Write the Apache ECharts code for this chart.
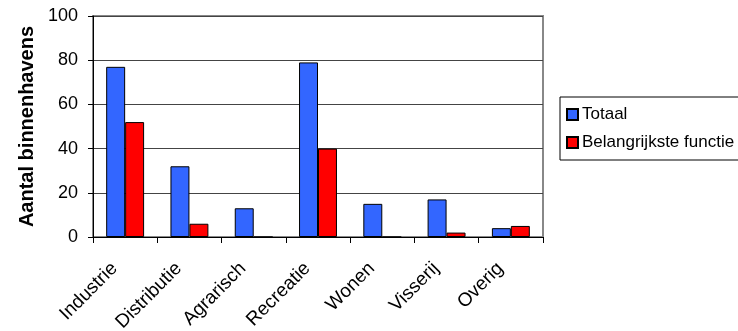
<!DOCTYPE html>
<html>
<head>
<meta charset="utf-8">
<script src="https://cdn.jsdelivr.net/npm/echarts@6/dist/echarts.min.js"></script>
<style>
html,body{margin:0;padding:0;background:#fff;}
#chart{width:738px;height:331px;}
</style>
</head>
<body>
<div id="chart"></div>
<script>
var categories = ['Industrie', 'Distributie', 'Agrarisch', 'Recreatie', 'Wonen', 'Visserij', 'Overig'];
var totaal = [77, 32, 13, 79, 15, 17, 4];
var belangrijkste = [52, 6, 0, 40, 0, 2, 5];
var yTicks = [0, 20, 40, 60, 80, 100];

var FONT = '"Liberation Sans", Arial, sans-serif';
var chart = echarts.init(document.getElementById('chart'), null, {renderer: 'canvas'});
chart.setOption({
  animation: false,
  backgroundColor: '#ffffff',
  textStyle: {fontFamily: FONT},
  grid: {left: 93, right: 195, top: 16, bottom: 94, show: true, borderColor: '#888888', borderWidth: 2,
         containLabel: false, outerBoundsMode: 'none'},
  legend: {
    orient: 'vertical',
    left: 560, top: 97,
    padding: [9, 8, 9, 6],
    itemWidth: 11, itemHeight: 11, itemGap: 11,
    borderColor: '#000', borderWidth: 1,
    icon: 'rect',
    textStyle: {fontFamily: FONT, fontSize: 17, color: '#000', padding: [0, 0, 0, -1]},
    data: ['Totaal', 'Belangrijkste functie']
  },
  xAxis: {
    type: 'category',
    data: categories,
    axisLine: {lineStyle: {color: '#000', width: 1}},
    axisTick: {show: true, length: 6, lineStyle: {color: '#000'}},
    axisLabel: {rotate: 45, fontFamily: FONT, fontSize: 19, color: '#000', margin: 18, interval: 0,
                padding: [0, 15, 0, 0]}
  },
  yAxis: {
    type: 'value',
    min: yTicks[0], max: yTicks[yTicks.length - 1], interval: 20,
    name: 'Aantal binnenhavens',
    nameLocation: 'middle',
    nameGap: 56,
    nameTextStyle: {fontFamily: FONT, fontSize: 20, fontWeight: 'bold', color: '#000'},
    axisLine: {show: true, lineStyle: {color: '#000', width: 1}},
    axisTick: {show: true, length: 5, lineStyle: {color: '#000'}},
    axisLabel: {fontFamily: FONT, fontSize: 18, color: '#000', margin: 15},
    splitLine: {lineStyle: {color: '#444444', width: 1}}
  },
  series: [
    {name: 'Totaal', type: 'bar', data: totaal, barGap: '0%', barCategoryGap: '41%',
     itemStyle: {color: '#3366FF', borderColor: '#000', borderWidth: 1}},
    {name: 'Belangrijkste functie', type: 'bar', data: belangrijkste, barGap: '0%', barCategoryGap: '41%',
     itemStyle: {color: '#FF0000', borderColor: '#000', borderWidth: 1}}
  ]
});
</script>
</body>
</html>
